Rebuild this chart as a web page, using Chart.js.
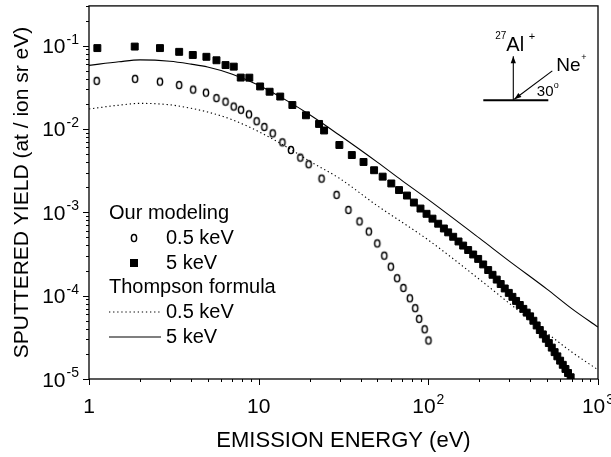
<!DOCTYPE html>
<html>
<head>
<meta charset="utf-8">
<script src="https://cdn.jsdelivr.net/npm/chart.js@4.4.1/dist/chart.umd.min.js"></script>
<style>
  html, body { margin: 0; padding: 0; background: #fff; }
  canvas { display: block; }
</style>
</head>
<body>
<canvas id="chart" width="611" height="457"></canvas>
<script>
// our modeling, 0.5 keV (open circles)
const energy05 = [1.11, 1.87, 2.62, 3.40, 4.11, 4.89, 5.64, 6.38, 7.13, 7.87, 8.77, 9.73, 10.8, 12.1, 13.8, 15.5, 17.6, 19.7, 23.5, 28.8, 33.8, 39.3, 44.6, 50.0, 55.0, 60.1, 65.5, 71.3, 77.8, 83.7, 88.3, 95.1, 100.2];
const yield05 = [0.0378, 0.0400, 0.0370, 0.0337, 0.0297, 0.0273, 0.0235, 0.0213, 0.0186, 0.0170, 0.0150, 0.0124, 0.0106, 0.00887, 0.00692, 0.00560, 0.00454, 0.00378, 0.00254, 0.00162, 0.00107, 7.78e-4, 5.88e-4, 4.24e-4, 3.02e-4, 2.23e-4, 1.62e-4, 1.24e-4, 9.31e-5, 7.08e-5, 5.27e-5, 3.95e-5, 2.90e-5];

// our modeling, 5 keV (filled squares)
const energy5 = [1.12, 1.86, 2.62, 3.40, 4.09, 4.92, 5.64, 6.38, 7.13, 7.84, 8.81, 10.2, 11.6, 13.4, 15.8, 19.0, 22.7, 24.3, 29.9, 35.4, 41.5, 47.9, 53.8, 60.5, 67.2, 74.8, 82.2,
  89.9, 97.6, 105.8, 114.3, 123.5, 130.9, 140.1, 150.6, 160.4, 171.7, 183.8, 196.7, 210.5, 225.3, 239, 253, 267, 282, 298, 313, 329, 346, 363, 380, 398, 416, 435, 454, 473, 493, 513, 534, 555, 576, 598, 620, 643, 666, 690];
const yield5 = [0.0935, 0.0975, 0.0935, 0.0843, 0.0773, 0.0735, 0.0668, 0.0585, 0.0560, 0.0414, 0.0413, 0.0324, 0.0280, 0.0245, 0.0194, 0.0146, 0.0115, 0.0096, 0.00643, 0.00487, 0.00402, 0.00320, 0.00268, 0.00222, 0.00185, 0.00159, 0.00131,
  1.11e-3, 9.6e-4, 8.4e-4, 7.3e-4, 6.4e-4, 5.75e-4, 5.09e-4, 4.47e-4, 3.99e-4, 3.53e-4, 3.12e-4, 2.76e-4, 2.37e-4, 2.03e-4, 1.78e-4, 1.56e-4, 1.38e-4, 1.22e-4, 1.08e-4, 9.68e-5, 8.65e-5, 7.73e-5, 6.94e-5, 6.26e-5, 5.65e-5, 5.0e-5, 4.39e-5, 3.87e-5, 3.43e-5, 3.04e-5, 2.70e-5, 2.38e-5, 2.10e-5, 1.87e-5, 1.66e-5, 1.48e-5, 1.32e-5, 1.18e-5, 1.05e-5];

// Thompson formula
const thompsonEnergy = [1, 1.5, 2, 3, 4, 5, 7, 10, 15, 20, 30, 50, 70, 100, 200, 300, 500, 700, 1000];
const thompson05 = [0.0174, 0.0193, 0.0203, 0.0195, 0.0177, 0.0160, 0.0129, 0.0093, 0.0059, 0.0041, 0.00255, 0.00120, 7.6e-4, 4.65e-4, 1.57e-4, 8.1e-5, 3.56e-5, 2.11e-5, 1.29e-5];
const thompson5 = [0.0580, 0.0640, 0.0675, 0.0650, 0.0600, 0.0555, 0.0455, 0.0335, 0.0213, 0.0148, 0.0084, 0.0040, 0.0024, 0.00142, 4.9e-4, 2.6e-4, 1.20e-4, 7.0e-5, 4.2e-5];

// tick labels: [base, exponent]
const xTicks = [1, 10, 100, 1000];
const xTickLabels = [['1', ''], ['10', ''], ['10', '2'], ['10', '3']];
const yTicks = [1e-5, 1e-4, 1e-3, 1e-2, 1e-1];
const yTickLabels = [['10', '-5'], ['10', '-4'], ['10', '-3'], ['10', '-2'], ['10', '-1']];

const FONT = '"Liberation Sans", Arial, sans-serif';
const font = (s) => s + 'px ' + FONT;

function pts(xs, ys) {
    return xs.map((x, i) => ({x: x, y: ys[i]}));
}

// small open ellipse, like the "o" markers of the original
const ring = document.createElement('canvas');
ring.width = 10;
ring.height = 12;
(function() {
    const c = ring.getContext('2d');
    c.beginPath();
    c.ellipse(5, 6, 2.6, 3.6, 0, 0, Math.PI * 2);
    c.lineWidth = 1.5;
    c.strokeStyle = '#000';
    c.stroke();
})();

function supText(ctx, base, sup, x, y, size, supSize, align) {
    ctx.font = font(size);
    const wb = ctx.measureText(base).width;
    ctx.font = font(supSize);
    const ws = sup ? ctx.measureText(sup).width + 1 : 0;
    let left = x;
    if (align === 'right') left = x - wb - ws;
    if (align === 'center') left = x - (wb + ws) / 2;
    ctx.textAlign = 'left';
    ctx.textBaseline = 'alphabetic';
    ctx.font = font(size);
    ctx.fillText(base, left, y);
    if (sup) {
        ctx.font = font(supSize);
        ctx.fillText(sup, left + wb + 1, y - size * 0.45);
    }
}

function arrow(ctx, x1, y1, x2, y2) {
    ctx.beginPath();
    ctx.moveTo(x1, y1);
    ctx.lineTo(x2, y2);
    ctx.stroke();
    const a = Math.atan2(y2 - y1, x2 - x1), L = 7, W = 2.6;
    ctx.beginPath();
    ctx.moveTo(x2, y2);
    ctx.lineTo(x2 - L * Math.cos(a) + W * Math.sin(a), y2 - L * Math.sin(a) - W * Math.cos(a));
    ctx.lineTo(x2 - L * Math.cos(a) - W * Math.sin(a), y2 - L * Math.sin(a) + W * Math.cos(a));
    ctx.closePath();
    ctx.fill();
}

const framePlugin = {
    id: 'frame',
    afterDraw(chart) {
        const ctx = chart.ctx;
        const a = chart.chartArea;
        const xs = chart.scales.x, ys = chart.scales.y;
        ctx.save();
        ctx.strokeStyle = '#000';
        ctx.fillStyle = '#000';

        // box
        ctx.lineWidth = 1.3;
        ctx.strokeRect(a.left, a.top, a.right - a.left, a.bottom - a.top);

        // ticks (outside), minor at 2..9
        ctx.lineWidth = 1;
        ctx.beginPath();
        for (let d = 1; d <= 1000; d *= 10) {
            for (let m = 1; m <= 9; m++) {
                const v = m * d;
                if (v > 1000) break;
                const px = Math.round(xs.getPixelForValue(v)) + 0.5;
                ctx.moveTo(px, a.bottom);
                ctx.lineTo(px, a.bottom + (m === 1 ? 6 : 3));
            }
        }
        for (let d = 1e-5; d <= 0.1; d *= 10) {
            for (let m = 1; m <= 9; m++) {
                const v = m * d;
                if (v > 0.31) break;
                const py = Math.round(ys.getPixelForValue(v)) + 0.5;
                ctx.moveTo(a.left, py);
                ctx.lineTo(a.left - (m === 1 ? 6 : 3), py);
            }
        }
        ctx.stroke();

        // tick labels
        xTicks.forEach((v, i) => {
            const px = xs.getPixelForValue(v);
            supText(ctx, xTickLabels[i][0], xTickLabels[i][1], px, a.bottom + 34, 21, 14, 'center');
        });
        yTicks.forEach((v, i) => {
            const py = ys.getPixelForValue(v);
            supText(ctx, yTickLabels[i][0], yTickLabels[i][1], a.left - 10, py + 7.5, 21, 14, 'right');
        });

        // axis titles
        ctx.font = font(22);
        ctx.textAlign = 'center';
        ctx.textBaseline = 'middle';
        ctx.fillText('EMISSION ENERGY (eV)', (a.left + a.right) / 2, a.bottom + 62);
        ctx.save();
        ctx.translate(22, (a.top + a.bottom) / 2);
        ctx.rotate(-Math.PI / 2);
        ctx.font = font(21);
        ctx.fillText('SPUTTERED YIELD (at / ion sr eV)', 0, 0);
        ctx.restore();

        // legend
        const lx = a.left + 20;
        ctx.textAlign = 'left';
        ctx.textBaseline = 'middle';
        ctx.font = font(20);
        ctx.fillText('Our modeling', lx, 213);
        ctx.drawImage(ring, lx + 25 - ring.width / 2, 238 - ring.height / 2);
        ctx.fillText('0.5 keV', lx + 57, 238);
        ctx.fillRect(lx + 25 - 4, 263 - 4, 8, 8);
        ctx.fillText('5 keV', lx + 57, 263);
        ctx.fillText('Thompson formula', lx, 287.5);
        ctx.lineWidth = 1.1;
        ctx.setLineDash([1.3, 2.8]);
        ctx.beginPath();
        ctx.moveTo(lx, 312);
        ctx.lineTo(lx + 52, 312);
        ctx.stroke();
        ctx.setLineDash([]);
        ctx.fillText('0.5 keV', lx + 57, 312);
        ctx.beginPath();
        ctx.moveTo(lx, 337);
        ctx.lineTo(lx + 52, 337);
        ctx.stroke();
        ctx.fillText('5 keV', lx + 57, 337);

        // geometry sketch, upper right
        const ox = a.right - 84.7, oy = a.top + 94.3;
        ctx.lineWidth = 2;
        ctx.beginPath();
        ctx.moveTo(ox - 30, oy);
        ctx.lineTo(ox + 35, oy);
        ctx.stroke();
        ctx.lineWidth = 1.1;
        arrow(ctx, ox, oy, ox, oy - 44);
        arrow(ctx, ox + 39, oy - 29.3, ox + 1, oy - 1);
        ctx.textBaseline = 'alphabetic';
        ctx.font = font(10);
        ctx.fillText('27', ox - 18, oy - 61);
        ctx.font = font(20);
        ctx.fillText('Al', ox - 7, oy - 49.5);
        ctx.font = font(11);
        ctx.fillText('+', ox + 15.5, oy - 60);
        ctx.font = font(19);
        ctx.fillText('Ne', ox + 43, oy - 29.5);
        ctx.font = font(9);
        ctx.fillText('+', ox + 68, oy - 40.5);
        ctx.font = font(15);
        ctx.fillText('30', ox + 23.5, oy - 4.5);
        ctx.font = font(9);
        ctx.fillText('o', ox + 40.5, oy - 12.5);
        ctx.restore();
    }
};

new Chart(document.getElementById('chart'), {
    type: 'scatter',
    data: {
        datasets: [
            {
                label: 'Our modeling 0.5 keV',
                data: pts(energy05, yield05),
                pointStyle: ring,
                pointRadius: 4,
                showLine: false
            },
            {
                label: 'Our modeling 5 keV',
                data: pts(energy5, yield5),
                pointStyle: 'rect',
                pointRadius: 4.9,
                backgroundColor: '#000',
                borderColor: '#000',
                borderWidth: 1,
                showLine: false
            },
            {
                label: 'Thompson formula 0.5 keV',
                data: pts(thompsonEnergy, thompson05),
                showLine: true,
                pointRadius: 0,
                borderColor: '#000',
                borderWidth: 1.1,
                borderDash: [1.3, 2.8],
                cubicInterpolationMode: 'monotone'
            },
            {
                label: 'Thompson formula 5 keV',
                data: pts(thompsonEnergy, thompson5),
                showLine: true,
                pointRadius: 0,
                borderColor: '#000',
                borderWidth: 1.1,
                cubicInterpolationMode: 'monotone'
            }
        ]
    },
    options: {
        responsive: false,
        animation: false,
        devicePixelRatio: 1,
        layout: {padding: {left: 89, right: 13, top: 5, bottom: 78}},
        plugins: {
            legend: {display: false},
            tooltip: {enabled: false}
        },
        scales: {
            x: {type: 'logarithmic', min: 1, max: 1000, display: false},
            y: {type: 'logarithmic', min: 1e-5, max: 0.3, display: false}
        }
    },
    plugins: [framePlugin]
});
</script>
</body>
</html>
